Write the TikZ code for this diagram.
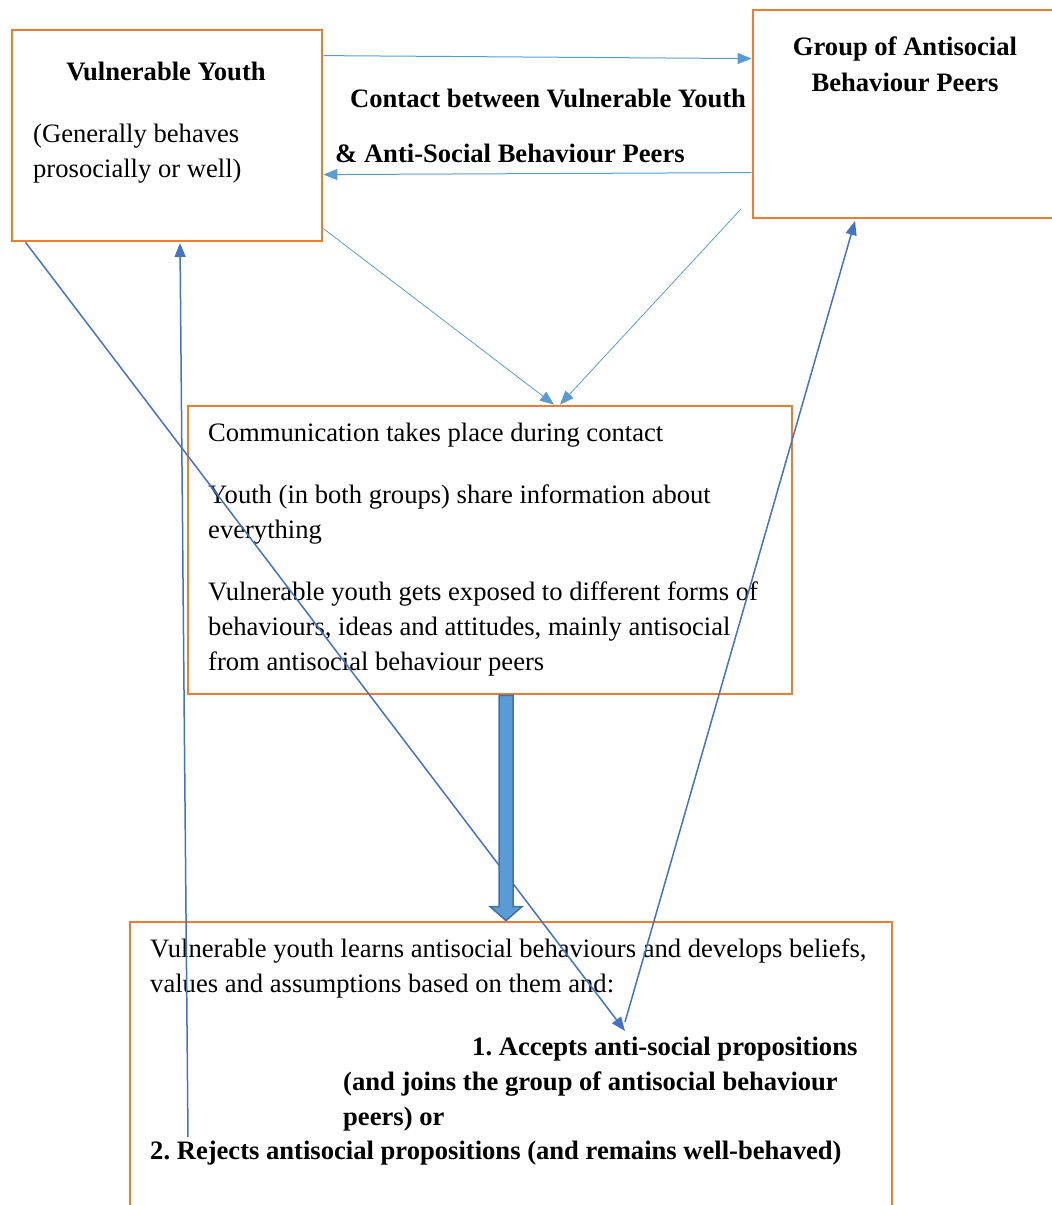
\documentclass[tikz,border=0pt]{standalone}
\usepackage{fontspec}
\setmainfont{Liberation Serif}
\usetikzlibrary{arrows.meta,calc}
\definecolor{boxorange}{RGB}{237,125,49}
\definecolor{lblue}{RGB}{91,155,213}
\definecolor{dblue}{RGB}{68,114,196}
\definecolor{sblue}{RGB}{65,113,156}
\frenchspacing
\begin{document}
\frenchspacing
\begin{tikzpicture}[x=1pt,y=-1pt,
  boxst/.style={draw=boxorange,line width=2.8pt,rectangle,inner sep=0pt},
  txt/.style={anchor=base west,inner sep=0pt,font=\fontsize{26.6}{35}\selectfont},
  btxt/.style={txt,font=\fontsize{26.6}{35}\selectfont\bfseries},
  thin/.style={draw=lblue,line width=1pt,-{Triangle[length=14pt,width=11pt]}},
  long/.style={draw=dblue,line width=1.5pt,-{Triangle[length=14pt,width=11pt]}}]
\useasboundingbox (0,0) rectangle (1052,1205);
\clip (0,0) rectangle (1052,1205);
% boxes
\node[boxst,minimum width=310pt,minimum height=211pt] (A) at (167,135.5) {};
\node[boxst,minimum width=310pt,minimum height=208pt] (B) at (908,114) {};
\node[boxst,minimum width=604pt,minimum height=288pt] (C) at (490,550) {};
\node[boxst,minimum width=762pt,minimum height=298pt] (D) at (511,1071) {};
% texts
\node[btxt,anchor=base] (a1) at (166,80) {Vulnerable Youth};
\node[txt] (a2) at (33,142) {(Generally behaves};
\node[txt] (a3) at (33,177) {prosocially or well)};
\node[btxt,anchor=base] (b1) at (905,55) {Group of Antisocial};
\node[btxt,anchor=base] (b2) at (905,91) {Behaviour Peers};
\node[btxt] (l1) at (350,107) {Contact between Vulnerable Youth};
\node[btxt] (l2) at (335,162) {\& Anti-Social Behaviour Peers};
\node[txt] (c1) at (208,441) {Communication takes place during contact};
\node[txt] (c2) at (208,503) {Youth (in both groups) share information about};
\node[txt] (c3) at (208,538) {everything};
\node[txt] (c4) at (208,600) {Vulnerable youth gets exposed to different forms of};
\node[txt] (c5) at (208,635) {behaviours, ideas and attitudes, mainly antisocial};
\node[txt] (c6) at (208,670) {from antisocial behaviour peers};
\node[txt] (d1) at (150,957) {Vulnerable youth learns antisocial behaviours and develops beliefs,};
\node[txt] (d2) at (150,992) {values and assumptions based on them and:};
\node[btxt] (d3) at (472,1055) {1. Accepts anti-social propositions};
\node[btxt] (d4) at (343,1090) {(and joins the group of antisocial behaviour};
\node[btxt] (d5) at (343,1125) {peers) or};
\node[btxt] (d6) at (150,1159) {2. Rejects antisocial propositions (and remains well-behaved)};
% connector end points
\coordinate (pA1) at ($(A.north east)+(0,27)$);
\coordinate (pB1) at ($(B.north west)+(0,50)$);
\coordinate (pB2) at ($(B.north west)+(0,164)$);
\coordinate (pA2) at ($(A.north east)+(0,146)$);
\coordinate (pA3) at ($(A.north east)+(0,200)$);
\coordinate (pB3) at (741,209);
\coordinate (pC1) at ($(C.north)+(64,0)$);
\coordinate (pC2) at ($(C.north)+(70,0)$);
\coordinate (pA4) at ($(A.south west)+(15,0)$);
\coordinate (pD1) at (625,1031);
\coordinate (pD2) at (625,1022);
\coordinate (pB4) at (855,221);
\coordinate (pD3) at (188,1137);
\coordinate (pA5) at (180,243);
% connectors
\draw[thin] (pA1) -- (pB1);
\draw[thin] (pB2) -- (pA2);
\draw[thin,line width=0.8pt] (pA3) -- (pC1);
\draw[thin,line width=0.8pt] (pB3) -- (pC2);
\draw[long] (pA4) -- (pD1);
\draw[long] (pD2) -- (pB4);
\draw[long] (pD3) -- (pA5);
% thick arrow C -> D
\coordinate (tC) at ($(C.south)+(16,0)$);
\coordinate (tD) at ($(D.north)+(-5,0)$);
\filldraw[fill=lblue,draw=sblue,line width=1.5pt]
  ($(tC)+(-7,0)$) -- ($(tD)+(-7,-14)$) -- ($(tD)+(-16,-14)$) -- (tD)
  -- ($(tD)+(16,-14)$) -- ($(tD)+(7,-14)$) -- ($(tC)+(7,0)$) -- cycle;
\end{tikzpicture}
\end{document}
